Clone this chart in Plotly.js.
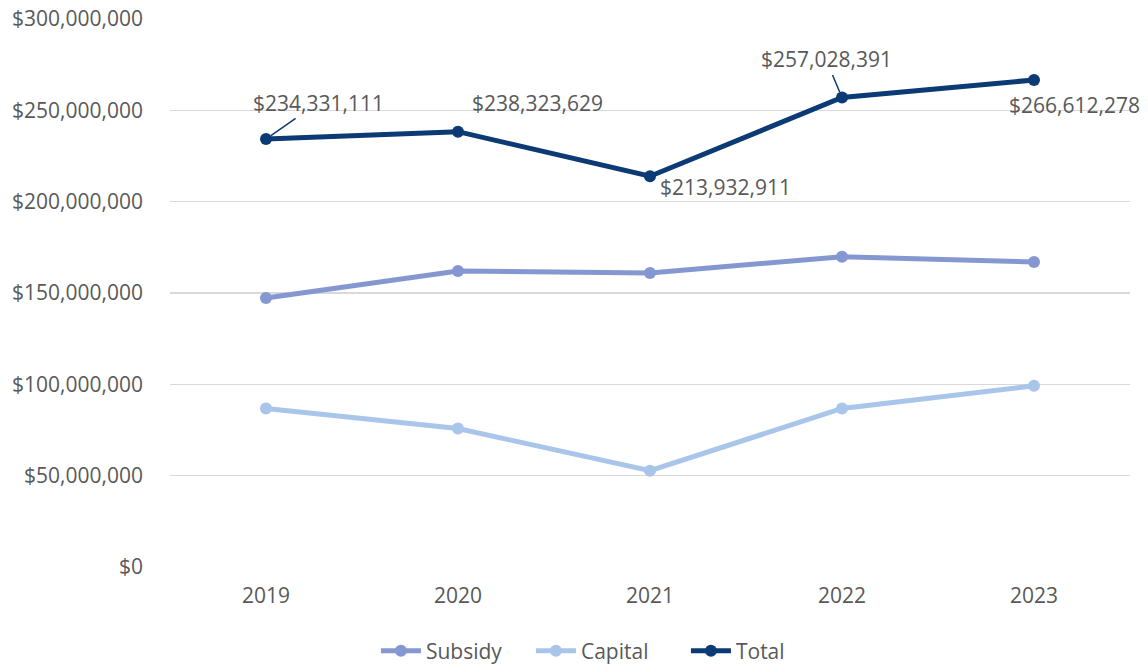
<!DOCTYPE html>
<html>
<head>
<meta charset="utf-8">
<script src="https://cdn.plot.ly/plotly-3.0.1.min.js"></script>
<style>html,body{margin:0;padding:0;background:#fff;}#chart{width:1148px;height:665px;}</style>
</head>
<body>
<div id="chart"></div>
<script>
const years = ["2019", "2020", "2021", "2022", "2023"];
const subsidy = [147300000, 162000000, 161000000, 169800000, 167000000];
const capital = [86800000, 75800000, 52700000, 86800000, 99200000];
const total = [234331111, 238323629, 213932911, 257028391, 266612278];
const totalLabels = ["$234,331,111", "$238,323,629", "$213,932,911", "$257,028,391", "$266,612,278"];

function mkFont() { return {family: "Open Sans, sans-serif", size: 21, color: "#595959"}; }

function series(name, y, color) {
  return {
    type: "scatter", mode: "lines+markers", name: name, x: years, y: y,
    line: {color: color, width: 5},
    marker: {color: color, size: 12},
    hoverinfo: "skip"
  };
}

const data = [
  series("Subsidy", subsidy, "#8497d0"),
  series("Capital", capital, "#a9c5ea"),
  series("Total", total, "#0b3a75")
];

const annoCfg = [
  {arrow: true, ax: 52, ay: -36},
  {arrow: false, xs: 79, ys: 29},
  {arrow: false, xs: 75, ys: -11},
  {arrow: true, ax: -16, ay: -38},
  {arrow: false, xs: 40, ys: -25}
];

const annotations = years.map((yr, i) => {
  const c = annoCfg[i];
  const a = {x: i, y: total[i], xref: "x", yref: "y", text: totalLabels[i], font: mkFont()};
  if (c.arrow) {
    Object.assign(a, {showarrow: true, arrowhead: 0, arrowwidth: 1.5, arrowcolor: "#0b3a75", ax: c.ax, ay: c.ay, standoff: 6});
  } else {
    Object.assign(a, {showarrow: false, xshift: c.xs, yshift: c.ys});
  }
  return a;
});

const layout = {
  width: 1148, height: 665,
  margin: {l: 170, r: 18, t: 19, b: 98},
  paper_bgcolor: "#fff", plot_bgcolor: "#fff",
  font: mkFont(),
  showlegend: true,
  legend: {orientation: "h", x: 0.53, xanchor: "center", xref: "container", y: 0.021, yanchor: "middle", yref: "container", font: mkFont(), itemwidth: 40, entrywidth: 100},
  xaxis: {type: "category", range: [-0.5, 4.5], showgrid: false, zeroline: false, showline: false, ticks: "", tickfont: mkFont(), ticklabelstandoff: 14},
  yaxis: {range: [0, 300000000], dtick: 50000000, tickformat: ",.0f", tickprefix: "$", showgrid: true, gridcolor: "#d9d9d9", gridwidth: 1.5, zeroline: false, showline: false, tickfont: mkFont(), ticklabelstandoff: 26},
  annotations: annotations
};

Plotly.newPlot("chart", data, layout, {displayModeBar: false, staticPlot: true});
</script>
</body>
</html>
